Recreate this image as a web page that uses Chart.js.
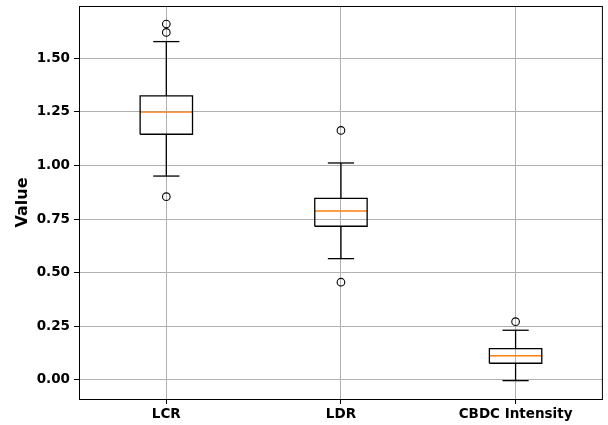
<!DOCTYPE html>
<html>
<head>
<meta charset="utf-8">
<script src="https://cdn.jsdelivr.net/npm/chart.js@4/dist/chart.umd.min.js"></script>
<style>
  body { margin: 0; background: #fff; overflow: hidden; }
  #wrap { width: 608px; height: 425px; }
  canvas { display: block; }
</style>
</head>
<body>
<div id="wrap"><canvas id="boxChart" width="608" height="425"></canvas></div>
<script>
const categories = ['LCR', 'LDR', 'CBDC Intensity']
const positions = [1, 2, 3]
const q1 = [1.146, 0.717, 0.078]
const medians = [1.249, 0.788, 0.113]
const q3 = [1.325, 0.847, 0.146]
const whiskerLow = [0.951, 0.566, -0.003]
const whiskerHigh = [1.578, 1.012, 0.232]
const outliers = [[1.660, 1.621, 0.855], [1.164, 0.456], [0.272]]
const yTicks = [0, 0.25, 0.5, 0.75, 1.0, 1.25, 1.5]

const halfBox = 0.15
const halfCap = 0.075
const font = { family: 'DejaVu Sans', weight: 'bold', size: 13.5 }
const noPadding = () => ({ left: 0, top: 0, right: 0, bottom: 0 })

function line(points, color) {
    return {
        type: 'line',
        data: points,
        showLine: true,
        borderColor: color,
        borderWidth: 1.3,
        pointRadius: 0,
        fill: false,
        tension: 0
    }
}

// build the box, median, whiskers and caps for every category
const datasets = []
positions.forEach((p, i) => {
    datasets.push(line([
        { x: p - halfBox, y: q1[i] }, { x: p + halfBox, y: q1[i] },
        { x: p + halfBox, y: q3[i] }, { x: p - halfBox, y: q3[i] },
        { x: p - halfBox, y: q1[i] }
    ], '#000'))
    datasets.push(line([{ x: p, y: q1[i] }, { x: p, y: whiskerLow[i] }], '#000'))
    datasets.push(line([{ x: p, y: q3[i] }, { x: p, y: whiskerHigh[i] }], '#000'))
    datasets.push(line([{ x: p - halfCap, y: whiskerLow[i] }, { x: p + halfCap, y: whiskerLow[i] }], '#000'))
    datasets.push(line([{ x: p - halfCap, y: whiskerHigh[i] }, { x: p + halfCap, y: whiskerHigh[i] }], '#000'))
    datasets.push(line([{ x: p - halfBox, y: medians[i] }, { x: p + halfBox, y: medians[i] }], '#ff7f0e'))
    datasets.push({
        type: 'scatter',
        data: outliers[i].map(v => ({ x: p, y: v })),
        pointStyle: 'circle',
        pointRadius: 3.8,
        backgroundColor: 'rgba(0,0,0,0)',
        borderColor: '#000',
        borderWidth: 1.1
    })
})

const frame = {
    id: 'frame',
    beforeDraw(chart) {
        const ctx = chart.ctx
        ctx.save()
        ctx.fillStyle = '#fff'
        ctx.fillRect(0, 0, chart.width, chart.height)
        ctx.restore()
    },
    afterDraw(chart) {
        const a = chart.chartArea
        const ctx = chart.ctx
        ctx.save()
        ctx.strokeStyle = '#000'
        ctx.lineWidth = 1
        ctx.strokeRect(a.left + 0.5, a.top + 0.5, a.right - a.left - 1, a.bottom - a.top)
        ctx.restore()
    }
}

new Chart(document.getElementById('boxChart').getContext('2d'), {
    type: 'scatter',
    data: { datasets },
    plugins: [frame],
    options: {
        responsive: false,
        animation: false,
        layout: { padding: { top: 6, right: 3, left: 0, bottom: 0 } },
        plugins: { legend: { display: false }, tooltip: { enabled: false } },
        scales: {
            x: {
                type: 'linear',
                min: 0.5,
                max: 3.5,
                afterBuildTicks: (scale) => { scale.ticks = positions.map(v => ({ value: v })) },
                afterFit: (scale) => {
                    scale.height = 26
                    scale.paddingLeft = 0
                    scale.paddingRight = 0
                    scale.getPadding = noPadding
                },
                ticks: {
                    color: '#000',
                    font,
                    padding: 2,
                    maxRotation: 0,
                    callback: (v) => categories[v - 1]
                },
                grid: { color: '#b0b0b0', lineWidth: 1, tickColor: '#000', tickLength: 5 },
                border: { color: '#000', width: 1 }
            },
            y: {
                min: -0.0886,
                max: 1.744,
                afterBuildTicks: (scale) => { scale.ticks = yTicks.map(v => ({ value: v })) },
                afterFit: (scale) => {
                    scale.width = 79
                    scale.paddingTop = 0
                    scale.paddingBottom = 0
                    scale.getPadding = noPadding
                },
                ticks: {
                    color: '#000',
                    font,
                    padding: 4,
                    callback: (v) => v.toFixed(2)
                },
                title: {
                    display: true,
                    text: 'Value',
                    color: '#000',
                    font: { family: 'DejaVu Sans', weight: 'bold', size: 16 },
                    padding: { top: 13, bottom: 4 }
                },
                grid: { color: '#b0b0b0', lineWidth: 1, tickColor: '#000', tickLength: 5 },
                border: { color: '#000', width: 1 }
            }
        }
    }
})
</script>
</body>
</html>
